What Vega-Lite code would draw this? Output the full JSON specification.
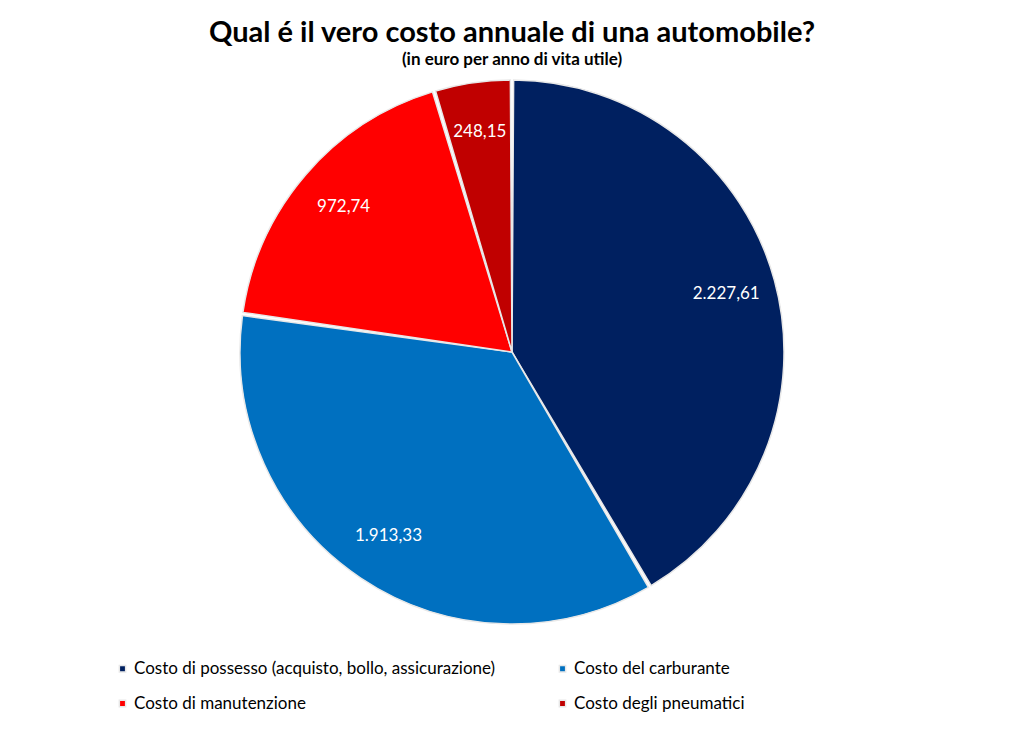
{
  "$schema": "https://vega.github.io/schema/vega-lite/v6.json",
  "width": 1024,
  "height": 560,
  "padding": {"top": 19, "left": 0, "right": 0, "bottom": 0},
  "background": "white",
  "title": {
    "text": "Qual é il vero costo annuale di una automobile?",
    "subtitle": "(in euro per anno di vita utile)",
    "font": "Lato",
    "fontSize": 29,
    "fontWeight": "bold",
    "color": "black",
    "subtitleFont": "Lato",
    "subtitleFontSize": 17,
    "subtitleFontWeight": "bold",
    "subtitleColor": "black",
    "subtitlePadding": 4,
    "anchor": "middle",
    "offset": 4
  },
  "data": {
    "values": [
      {"voce": "Costo di possesso (acquisto, bollo, assicurazione)", "euro": 2227.61, "ordine": 1},
      {"voce": "Costo del carburante", "euro": 1913.33, "ordine": 2},
      {"voce": "Costo di manutenzione", "euro": 972.74, "ordine": 3},
      {"voce": "Costo degli pneumatici", "euro": 248.15, "ordine": 4}
    ]
  },
  "encoding": {
    "theta": {"field": "euro", "type": "quantitative", "stack": true},
    "order": {"field": "ordine", "type": "quantitative"},
    "color": {
      "field": "voce",
      "type": "nominal",
      "scale": {
        "domain": [
          "Costo di possesso (acquisto, bollo, assicurazione)",
          "Costo di manutenzione",
          "Costo del carburante",
          "Costo degli pneumatici"
        ],
        "range": ["#002060", "#ff0000", "#0070c0", "#c00000"]
      },
      "legend": {
        "title": null,
        "orient": "none",
        "legendX": 114,
        "legendY": 588,
        "columns": 2,
        "columnPadding": 58,
        "rowPadding": 17,
        "symbolType": "square",
        "symbolSize": 40,
        "symbolOffset": 0,
        "labelOffset": 3,
        "labelFont": "Lato",
        "labelFontSize": 17,
        "labelColor": "black",
        "labelLimit": 500
      }
    }
  },
  "layer": [
    {
      "mark": {"type": "arc", "outerRadius": 272, "stroke": "#e8e8e8", "strokeWidth": 1.5, "padAngle": 0.012}
    },
    {
      "mark": {"type": "text", "radius": 222, "font": "Lato", "fontSize": 17, "color": "white"},
      "encoding": {
        "text": {"field": "euro", "type": "quantitative", "format": ",.2f"},
        "color": {"value": "white"}
      }
    }
  ],
  "config": {
    "view": {"stroke": null},
    "locale": {
      "number": {"decimal": ",", "thousands": ".", "grouping": [3], "currency": ["", " €"]}
    }
  }
}
